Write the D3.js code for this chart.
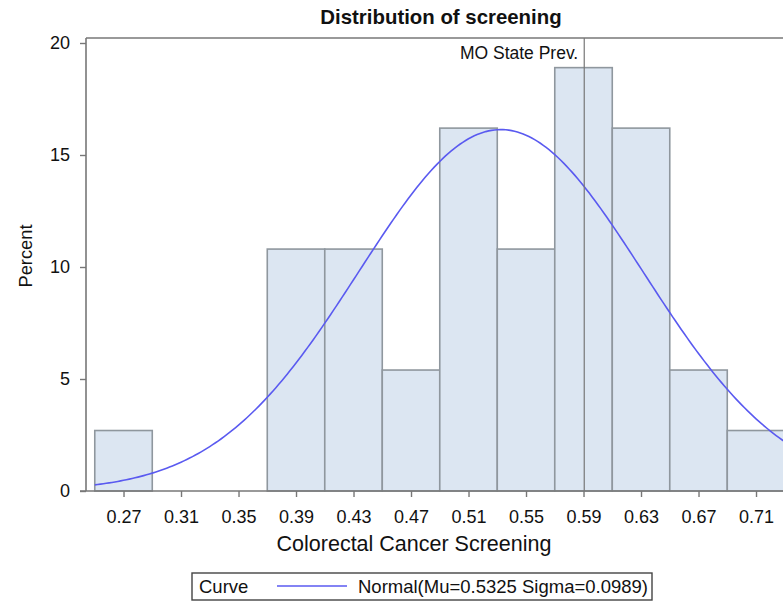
<!DOCTYPE html>
<html>
<head>
<meta charset="utf-8">
<script src="https://cdn.jsdelivr.net/npm/d3@7"></script>
<style>
  html, body { margin: 0; padding: 0; background: #fff; }
  svg { display: block; font-family: Arial, "Liberation Sans", sans-serif; }
</style>
</head>
<body>
<div id="chart"></div>
<script>
// bin midpoints and percent of counties per bin
const binMids = [0.27, 0.31, 0.35, 0.39, 0.43, 0.47, 0.51, 0.55, 0.59, 0.63, 0.67, 0.71];
const percents = [2.7, 0, 0, 10.8, 10.8, 5.4, 16.2, 10.8, 18.9, 16.2, 5.4, 2.7];
const binWidth = 0.04;
const xTicks = [0.27, 0.31, 0.35, 0.39, 0.43, 0.47, 0.51, 0.55, 0.59, 0.63, 0.67, 0.71];
const yTicks = [0, 5, 10, 15, 20];
const mu = 0.5325;
const sigma = 0.0989;
const refValue = 0.5905;
const refLabel = 'MO State Prev.';

const width = 783, height = 602;
const margin = { top: 38, left: 86 };
const plotRight = 830;
const yBottom = 491;

const svg = d3.select('#chart').append('svg')
  .attr('width', width)
  .attr('height', height);

const x = d3.scaleLinear().domain([0.2439, 0.7600]).range([margin.left, margin.left + (0.7600 - 0.2439) * 1437.5]);
const y = d3.scaleLinear().domain([0, 20]).range([yBottom, 43]);

// title
svg.append('text')
  .attr('x', 441).attr('y', 24)
  .attr('text-anchor', 'middle')
  .attr('font-size', 20.4).attr('font-weight', 'bold')
  .attr('fill', '#111')
  .text('Distribution of screening');

// bars
svg.selectAll('.bar')
  .data(binMids.map((m, i) => ({ mid: m, pct: percents[i] })).filter(d => d.pct > 0))
  .enter()
  .append('rect')
  .attr('class', 'bar')
  .attr('x', d => x(d.mid - binWidth / 2))
  .attr('y', d => y(d.pct))
  .attr('width', d => x(d.mid + binWidth / 2) - x(d.mid - binWidth / 2))
  .attr('height', d => yBottom - y(d.pct))
  .attr('fill', '#dce6f2')
  .attr('stroke', '#8f979e')
  .attr('stroke-width', 1.6);

// normal curve
const step = 0.002;
const curvePts = d3.range(0.25, 0.78, step).map(v => {
  const z = (v - mu) / sigma;
  return [v, 100 * binWidth * Math.exp(-0.5 * z * z) / (sigma * Math.sqrt(2 * Math.PI))];
});
svg.append('path')
  .datum(curvePts)
  .attr('fill', 'none')
  .attr('stroke', '#5a5af0')
  .attr('stroke-width', 1.6)
  .attr('d', d3.line().x(d => x(d[0])).y(d => y(d[1])));

// reference line
svg.append('line')
  .attr('x1', x(refValue)).attr('x2', x(refValue))
  .attr('y1', margin.top).attr('y2', yBottom)
  .attr('stroke', '#777').attr('stroke-width', 1.2);
svg.append('text')
  .attr('x', x(refValue) - 6).attr('y', 59)
  .attr('text-anchor', 'end')
  .attr('font-size', 17.5)
  .attr('fill', '#111')
  .text(refLabel);

// frame top
svg.append('line')
  .attr('x1', margin.left).attr('x2', plotRight)
  .attr('y1', margin.top).attr('y2', margin.top)
  .attr('stroke', '#777').attr('stroke-width', 1.6);

// X axis
const xAxis = svg.append('g')
  .attr('transform', `translate(0,${yBottom})`)
  .call(d3.axisBottom(x).tickValues(xTicks).tickFormat(d3.format('.2f')).tickSize(6).tickSizeOuter(0));
xAxis.select('.domain').attr('stroke', '#777').attr('stroke-width', 1.6)
  .attr('d', `M${margin.left - 6},0H${plotRight}`);
xAxis.selectAll('.tick line').attr('stroke', '#777').attr('stroke-width', 1.4);
xAxis.selectAll('text')
  .attr('font-size', 18)
  .attr('fill', '#111')
  .attr('y', 32)
  .attr('dy', 0);

// Y axis
const yAxis = svg.append('g')
  .attr('transform', `translate(${margin.left},0)`)
  .call(d3.axisLeft(y).tickValues(yTicks).tickSize(6).tickSizeOuter(0));
yAxis.select('.domain').attr('stroke', '#777').attr('stroke-width', 1.6)
  .attr('d', `M0,${margin.top}V${yBottom}`);
yAxis.selectAll('.tick line').attr('stroke', '#777').attr('stroke-width', 1.4);
yAxis.selectAll('text')
  .attr('font-size', 18)
  .attr('fill', '#111')
  .attr('x', -16);

// axis labels
svg.append('text')
  .attr('x', 414).attr('y', 551)
  .attr('text-anchor', 'middle')
  .attr('font-size', 21.5)
  .attr('fill', '#111')
  .text('Colorectal Cancer Screening');

svg.append('text')
  .attr('transform', 'translate(32,256) rotate(-90)')
  .attr('text-anchor', 'middle')
  .attr('font-size', 18.3)
  .attr('fill', '#111')
  .text('Percent');

// legend
const lg = svg.append('g');
lg.append('rect')
  .attr('x', 192).attr('y', 573)
  .attr('width', 460).attr('height', 27)
  .attr('fill', '#fff')
  .attr('stroke', '#444').attr('stroke-width', 1.4);
lg.append('text')
  .attr('x', 199).attr('y', 593)
  .attr('font-size', 18.5).attr('fill', '#111')
  .text('Curve');
lg.append('line')
  .attr('x1', 277).attr('x2', 347)
  .attr('y1', 586).attr('y2', 586)
  .attr('stroke', '#5a5af0').attr('stroke-width', 1.6);
lg.append('text')
  .attr('x', 358).attr('y', 593)
  .attr('font-size', 18.5).attr('fill', '#111')
  .text(`Normal(Mu=${mu} Sigma=${sigma})`);
</script>
</body>
</html>
